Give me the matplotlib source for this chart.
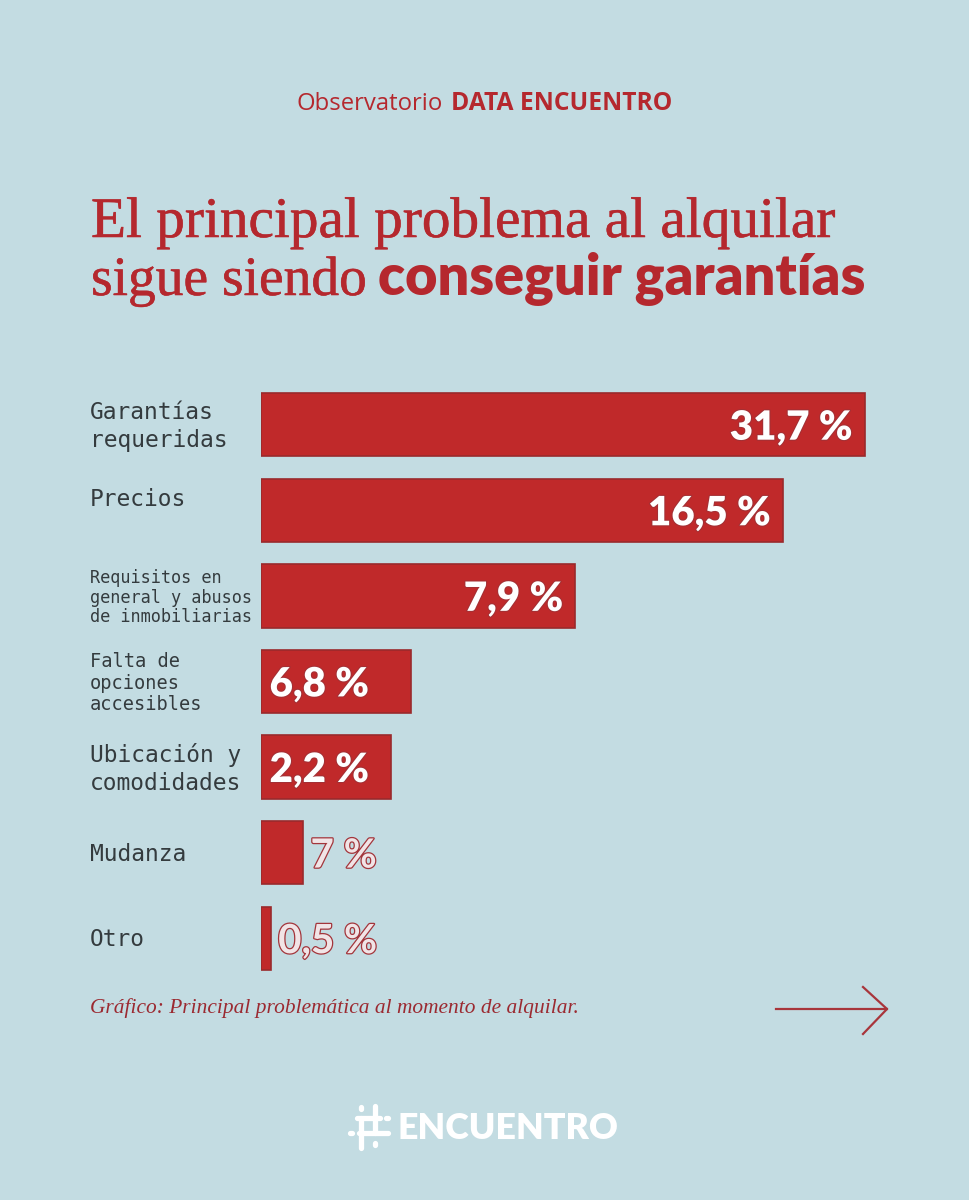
import matplotlib
matplotlib.use("Agg")
from matplotlib import pyplot as plt
from matplotlib import patheffects as pe
from matplotlib import transforms
from matplotlib.lines import Line2D


W, H = 969, 1200
BG = "#c3dce2"
RED = "#c0292a"
EDGE = "#9a2a2c"
TITLE_RED = "#b5282e"
LABEL_GRAY = "#343b3e"

# data
categories = [
    "Garantías\nrequeridas",
    "Precios",
    "Requisitos en\ngeneral y abusos\nde inmobiliarias",
    "Falta de\nopciones\naccesibles",
    "Ubicación y\ncomodidades",
    "Mudanza",
    "Otro",
]
bar_values = [31.7, 27.4, 16.5, 7.9, 6.8, 2.2, 0.5]
value_labels = ["31,7 %", "16,5 %", "7,9 %", "6,8 %", "2,2 %", "7 %", "0,5 %"]

# styling per row
label_sizes = [16.5, 16.5, 12.2, 13.4, 16.5, 16.5, 16.5]
label_spacing = [1.25, 1.25, 1.1, 1.15, 1.25, 1.25, 1.25]
label_modes = ["in_right", "in_right", "in_right", "in_left", "in_left", "out", "out"]


def fx(px):
    return px / W


def fy(py):
    return 1 - py / H


def fit_width(txt, renderer, target):
    w = txt.get_window_extent(renderer).width
    txt.set_fontsize(txt.get_fontsize() * target / w)


def seg(fig, x0, y0, x1, y1, lw=3.8):
    fig.add_artist(Line2D([fx(x0), fx(x1)], [fy(y0), fy(y1)], transform=fig.transFigure,
                          color="white", linewidth=lw, solid_capstyle="round"))


def main():
    fig = plt.figure(figsize=(W / 100, H / 100), dpi=100)
    fig.patch.set_facecolor(BG)
    renderer = fig.canvas.get_renderer()

    # bars
    ax = fig.add_axes([fx(261), fy(981), 35 * 19.05 / W, 599 / H])
    ax.set_facecolor("none")
    pos = list(range(len(bar_values)))
    ax.barh(pos, bar_values, height=0.74, color=RED, edgecolor=EDGE, linewidth=1.2)
    ax.set_xlim(0, 35)
    ax.set_ylim(6.5, -0.5)
    ax.axis("off")

    lab_tr = transforms.blended_transform_factory(fig.transFigure, ax.transData)
    for i, cat in enumerate(categories):
        dy = -0.13 if cat == "Precios" else 0.02
        ax.text(fx(90), i + dy, cat, transform=lab_tr, ha="left", va="center",
                family="DejaVu Sans Mono", fontsize=label_sizes[i],
                linespacing=label_spacing[i], color=LABEL_GRAY)

    for i, (v, lab) in enumerate(zip(bar_values, value_labels)):
        mode = label_modes[i]
        if mode == "in_right":
            t = ax.text(v - 0.65, i + 0.04, lab, ha="right", va="center")
        elif mode == "in_left":
            t = ax.text(0.45, i + 0.04, lab, ha="left", va="center")
        else:
            t = ax.text(v + 0.4, i + 0.04, lab, ha="left", va="center")
        t.set_family("Lato")
        t.set_fontsize(29)
        if mode == "out":
            t.set_weight("bold")
            t.set_color("#f1e4e6")
            t.set_path_effects([pe.Stroke(linewidth=1.8, foreground="#a3353b"), pe.Normal()])
        else:
            t.set_weight("heavy")
            t.set_color("white")
            t.set_path_effects([pe.Stroke(linewidth=1.5, foreground="#a33035"), pe.Normal()])

    # header
    t1 = fig.text(fx(297), fy(110), "Observatorio", family="Open Sans",
                  fontsize=15, color=TITLE_RED, va="baseline")
    fit_width(t1, renderer, 146)
    t2 = fig.text(fx(451), fy(110), "DATA ENCUENTRO", family="Open Sans",
                  weight="bold", fontsize=15, color=TITLE_RED, va="baseline")
    fit_width(t2, renderer, 221)

    # title, serif thickened a little with a stroke
    thick = [pe.Stroke(linewidth=0.4, foreground=TITLE_RED), pe.Normal()]
    l1 = fig.text(fx(91), fy(237), "El principal problema al alquilar",
                  family="Liberation Serif", fontsize=40, color=TITLE_RED, va="baseline",
                  path_effects=thick)
    fit_width(l1, renderer, 744)
    l2a = fig.text(fx(91), fy(295), "sigue siendo", family="Liberation Serif",
                   fontsize=40, color=TITLE_RED, va="baseline", path_effects=thick)
    fit_width(l2a, renderer, 275)
    l2b = fig.text(fx(378), fy(295), "conseguir garantías", family="Lato",
                   weight="heavy", fontsize=34, color=TITLE_RED, va="baseline")
    fit_width(l2b, renderer, 488)

    # caption
    cap = fig.text(fx(90), fy(1013), "Gráfico: Principal problemática al momento de alquilar.",
                   family="Liberation Serif", style="italic", fontsize=14,
                   color="#9b2a31", va="baseline")
    fit_width(cap, renderer, 487)

    # arrow
    fig.add_artist(Line2D([fx(776), fx(887)], [fy(1009), fy(1009)],
                          transform=fig.transFigure, color="#a8353b", linewidth=1.6))
    fig.add_artist(Line2D([fx(863), fx(887), fx(863)], [fy(987), fy(1009), fy(1034)],
                          transform=fig.transFigure, color="#a8353b", linewidth=1.6))

    # logo
    logo = fig.text(fx(398), fy(1139), "ENCUENTRO", family="Lato", weight="heavy",
                    fontsize=25, color="white", va="baseline")
    fit_width(logo, renderer, 222)
    seg(fig, 361, 1118, 361, 1148)
    seg(fig, 361, 1107, 361, 1109)
    seg(fig, 375, 1106, 375, 1133)
    seg(fig, 375, 1143, 375, 1145)
    seg(fig, 357, 1118, 380, 1118)
    seg(fig, 386, 1118, 388, 1118)
    seg(fig, 359, 1133, 388, 1133)
    seg(fig, 350, 1133, 352, 1133)

    fig.savefig("out.png", dpi=100, facecolor=BG)


if __name__ == "__main__":
    main()
